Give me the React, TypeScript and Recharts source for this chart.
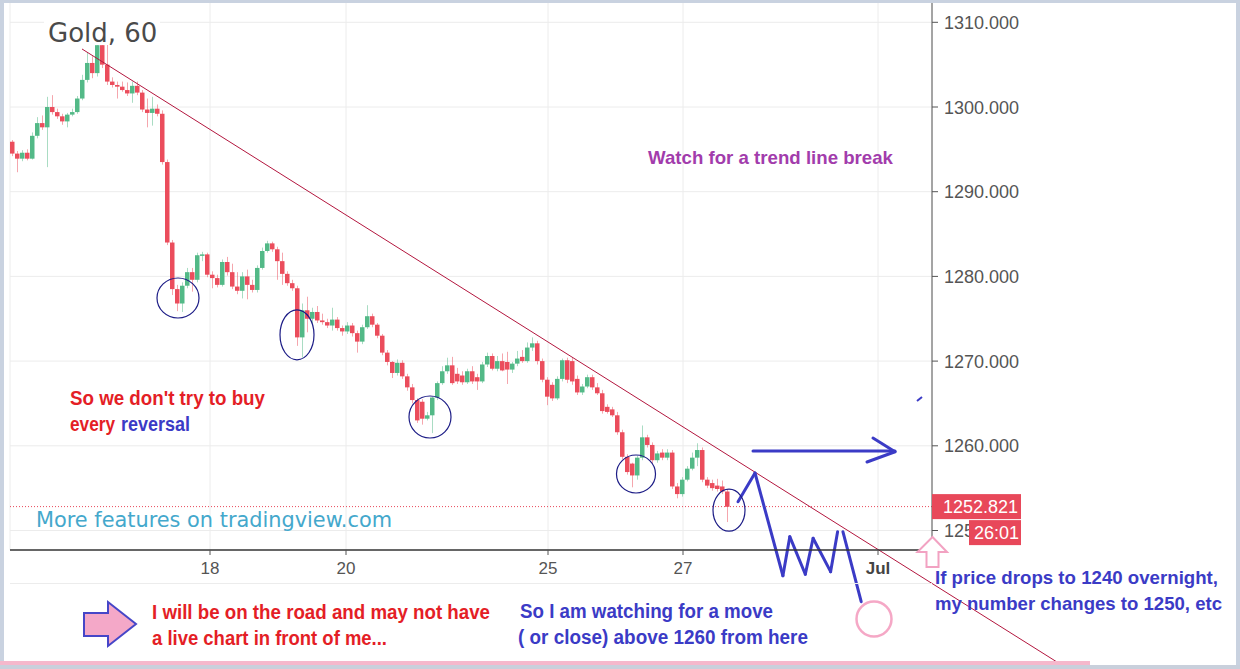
import React from 'react';
import { ComposedChart, Bar, XAxis, YAxis, CartesianGrid, ReferenceLine, ReferenceDot } from 'recharts';

// ---- Gold, 60 (candles) ----
const opens = [
  1295.9, 1294.5, 1293.9, 1294.6, 1293.9, 1296.6, 1298.1, 1297.6, 1300.0, 1299.4,
  1298.9, 1298.3, 1299.1, 1299.4, 1301.0, 1303.2, 1305.2, 1304.0, 1307.3, 1305.0,
  1303.0, 1302.6, 1302.4, 1302.0, 1301.6, 1302.5, 1301.7, 1299.7, 1299.3, 1299.8,
  1299.2, 1293.5, 1284.0, 1278.5, 1276.8, 1278.9, 1280.5, 1279.6, 1282.5, 1282.6,
  1280.2, 1279.8, 1279.0, 1281.7, 1280.5, 1278.8, 1278.3, 1280.0, 1279.0, 1278.4,
  1281.0, 1283.0, 1283.9, 1283.2, 1281.8, 1280.3, 1279.2, 1278.6, 1272.8, 1276.0,
  1275.0, 1275.8, 1274.8, 1274.6, 1274.2, 1274.9, 1273.9, 1273.5, 1274.2, 1273.3,
  1272.3, 1274.0, 1275.3, 1274.3, 1273.0, 1271.0, 1269.9, 1268.6, 1269.8, 1268.2,
  1266.9, 1265.4, 1265.2, 1263.2, 1263.6, 1265.7, 1267.4, 1268.8, 1269.5, 1268.5,
  1268.3, 1267.5, 1268.8, 1268.1, 1267.6, 1269.6, 1270.6, 1269.1, 1270.0, 1269.9,
  1269.0, 1269.7, 1270.5, 1270.0, 1271.6, 1272.1, 1270.0, 1267.8, 1267.2, 1265.6,
  1267.9, 1270.1, 1270.0, 1267.9, 1266.3, 1267.0, 1268.1, 1266.9, 1266.2, 1264.6,
  1264.3, 1263.6, 1261.6, 1258.7, 1257.9, 1256.5, 1258.6, 1261.0, 1260.1, 1258.3,
  1259.2, 1258.6, 1259.2, 1255.2, 1254.3, 1256.0, 1257.3, 1258.6, 1259.5, 1256.0,
  1255.6, 1255.3, 1255.2, 1254.6,
];
const highs = [
  1296.1, 1294.8, 1294.9, 1295.0, 1297.0, 1298.8, 1299.0, 1301.2, 1301.4, 1299.8,
  1299.2, 1299.3, 1299.8, 1301.3, 1303.8, 1306.4, 1306.0, 1307.6, 1307.7, 1307.4,
  1303.5, 1303.0, 1303.0, 1302.9, 1303.0, 1303.0, 1302.0, 1301.0, 1301.2, 1300.3,
  1299.6, 1293.8, 1284.3, 1279.0, 1279.3, 1281.0, 1281.0, 1282.8, 1282.9, 1282.8,
  1280.6, 1280.2, 1282.0, 1282.3, 1281.5, 1280.5, 1280.5, 1280.8, 1279.6, 1281.3,
  1283.4, 1284.2, 1284.1, 1283.5, 1282.8, 1280.6, 1279.6, 1278.9, 1276.8, 1277.6,
  1276.3, 1276.5, 1275.6, 1275.0, 1276.3, 1275.2, 1274.2, 1274.6, 1274.5, 1273.6,
  1274.3, 1276.6, 1275.6, 1274.5, 1273.2, 1271.3, 1270.0, 1270.2, 1270.1, 1268.5,
  1267.3, 1265.6, 1265.5, 1264.0, 1265.8, 1267.6, 1269.4, 1270.4, 1270.5, 1269.2,
  1268.8, 1269.1, 1269.4, 1268.5, 1269.9, 1271.0, 1270.9, 1270.6, 1270.9, 1271.1,
  1269.9, 1271.2, 1271.3, 1272.2, 1272.8, 1272.4, 1270.3, 1268.1, 1267.5, 1268.2,
  1270.3, 1270.4, 1270.4, 1268.3, 1267.3, 1268.4, 1268.4, 1267.4, 1266.6, 1264.9,
  1264.6, 1264.0, 1261.9, 1259.0, 1258.0, 1258.8, 1262.4, 1261.3, 1260.4, 1259.4,
  1259.6, 1259.6, 1259.5, 1255.6, 1256.3, 1257.6, 1259.2, 1260.3, 1259.8, 1256.3,
  1256.0, 1256.1, 1255.9, 1254.9,
];
const lows = [
  1294.2, 1292.3, 1293.6, 1293.7, 1293.8, 1296.3, 1297.3, 1292.9, 1299.1, 1298.6,
  1297.9, 1297.6, 1298.9, 1299.2, 1300.8, 1302.9, 1303.4, 1303.6, 1304.6, 1302.6,
  1302.3, 1301.0, 1301.8, 1301.3, 1300.5, 1301.4, 1299.4, 1297.6, 1297.8, 1298.9,
  1293.2, 1283.7, 1277.8, 1275.9, 1275.8, 1278.6, 1278.2, 1279.3, 1281.8, 1279.9,
  1278.6, 1278.7, 1278.8, 1280.1, 1278.5, 1277.9, 1277.4, 1277.3, 1278.1, 1278.1,
  1280.8, 1282.8, 1282.9, 1279.6, 1279.0, 1278.9, 1278.3, 1271.8, 1270.4, 1273.4,
  1274.4, 1274.5, 1274.3, 1273.9, 1273.6, 1273.6, 1273.0, 1273.2, 1272.9, 1271.0,
  1272.0, 1273.8, 1274.0, 1272.7, 1270.7, 1269.5, 1268.0, 1268.3, 1267.9, 1266.5,
  1265.0, 1262.7, 1262.5, 1263.0, 1261.5, 1265.4, 1267.2, 1268.5, 1267.2, 1267.3,
  1267.2, 1267.3, 1267.3, 1266.6, 1267.4, 1269.3, 1268.9, 1268.8, 1268.8, 1267.3,
  1268.6, 1269.4, 1269.8, 1269.8, 1271.2, 1269.6, 1267.5, 1264.8, 1265.3, 1265.4,
  1267.6, 1267.4, 1267.2, 1266.0, 1266.0, 1266.8, 1266.6, 1266.0, 1263.8, 1263.8,
  1263.4, 1261.3, 1258.4, 1256.6, 1255.1, 1256.0, 1258.3, 1259.8, 1257.9, 1258.0,
  1258.3, 1258.3, 1254.9, 1253.8, 1254.0, 1255.8, 1257.1, 1257.6, 1255.7, 1255.0,
  1254.7, 1254.6, 1254.3, 1251.0,
];
const closes = [
  1294.5, 1293.9, 1294.6, 1293.9, 1296.6, 1298.1, 1297.6, 1300.0, 1299.4, 1298.9,
  1298.3, 1299.1, 1299.4, 1301.0, 1303.2, 1305.2, 1304.0, 1307.3, 1305.0, 1303.0,
  1302.6, 1302.4, 1302.0, 1301.6, 1302.5, 1301.7, 1299.7, 1299.3, 1299.8, 1299.2,
  1293.5, 1284.0, 1278.5, 1276.8, 1278.9, 1280.5, 1279.6, 1282.5, 1282.6, 1280.2,
  1279.8, 1279.0, 1281.7, 1280.5, 1278.8, 1278.3, 1280.0, 1279.0, 1278.4, 1281.0,
  1283.0, 1283.9, 1283.2, 1281.8, 1280.3, 1279.2, 1278.6, 1272.8, 1276.0, 1275.0,
  1275.8, 1274.8, 1274.6, 1274.2, 1274.9, 1273.9, 1273.5, 1274.2, 1273.3, 1272.3,
  1274.0, 1275.3, 1274.3, 1273.0, 1271.0, 1269.9, 1268.6, 1269.8, 1268.2, 1266.9,
  1265.4, 1263.0, 1263.2, 1263.6, 1265.7, 1267.4, 1268.8, 1269.5, 1267.4, 1267.6,
  1267.5, 1268.8, 1267.6, 1267.6, 1269.6, 1270.6, 1269.1, 1270.0, 1268.9, 1269.0,
  1269.7, 1270.3, 1270.0, 1271.6, 1272.1, 1270.0, 1267.8, 1265.8, 1265.6, 1267.9,
  1270.1, 1267.8, 1267.6, 1266.3, 1267.0, 1268.1, 1266.9, 1266.2, 1264.1, 1264.0,
  1263.6, 1261.6, 1258.7, 1256.9, 1256.5, 1258.6, 1261.0, 1260.1, 1258.3, 1259.1,
  1258.6, 1259.2, 1255.2, 1254.3, 1256.0, 1257.3, 1258.6, 1259.5, 1256.0, 1255.3,
  1255.0, 1254.9, 1254.6, 1252.8,
];

// time axis (candle index units) and labels
const dayTickPositions = [39.5, 66.7, 107.1, 134.1, 173.1];
const dayTickLabels = ['18', '20', '25', '27', 'Jul'];
const priceTicks = [1250, 1260, 1270, 1280, 1290, 1300, 1310];
const lastPrice = 1252.821;
const countdown = '26:01';

// annotations in data coordinates [candle index, price]
const trendLine = [[13.9, 1306.85], [208.9, 1234.47]];
const reversalCircles = [[33.1, 1277.45], [56.9, 1273.1], [83.5, 1263.4], [124.7, 1256.67], [143.3, 1252.4]];
const scenarioPath = [
  [145.1, 1253.4], [148.5, 1256.79], [154.08, 1244.66], [155.46, 1249.27],
  [158.56, 1244.83], [160.12, 1249.08], [163.62, 1245.14], [165.02, 1249.86],
];
const scenarioDrop = [[166.08, 1249.86], [169.74, 1241.59]];
const breakoutArrow = [[148.1, 1259.39], [176.5, 1259.39]];
const breakoutHead = [[[172.1, 1260.92], [176.5, 1259.3]], [[170.9, 1258.09], [176.5, 1259.3]]];
const targetLevel = [172.3, 1239.55];

// ---- styles ----
const UP = '#53b987';
const DOWN = '#eb4d5c';
const ELLIPSE_R = [[21, 20], [17, 25], [21, 21], [19.5, 19], [16, 21]];
const BLUE = '#3b3bc6';
const RED_TXT = '#e41e26';
const TAG = '#e8485a';
const BOLD_FONT = "'Liberation Sans Narrow', 'Arial Narrow', 'Liberation Sans', Arial, sans-serif";
const AXIS_FONT = "'Liberation Sans', Arial, sans-serif";

const candleData = closes.map((c, i) => ({
  t: i,
  o: opens[i],
  h: highs[i],
  l: lows[i],
  c,
  range: [lows[i], highs[i]],
}));

const Candle = (props: any) => {
  const { x, y, width, height, payload } = props;
  if (x == null || y == null || !payload) return null;
  const { o, h, l, c } = payload;
  const span = h - l || 1;
  const py = (p: number) => y + ((h - p) / span) * height;
  const up = c >= o;
  const color = up ? UP : DOWN;
  const top = py(Math.max(o, c));
  const bot = py(Math.min(o, c));
  const cx = Math.round(x + width / 2) + 0.5;
  return (
    <g>
      <line x1={cx} x2={cx} y1={y} y2={y + height} stroke={color} strokeOpacity={0.5} strokeWidth={1} />
      <rect x={x} y={top} width={width} height={Math.max(1.5, bot - top)} fill={color} />
    </g>
  );
};

const DayTick = (props: any) => {
  const { x, y, payload } = props;
  const idx = dayTickPositions.indexOf(payload.value);
  const label = dayTickLabels[idx] ?? '';
  const bold = label === 'Jul';
  return (
    <text
      x={x}
      y={y + 17}
      textAnchor="middle"
      fill={bold ? '#444' : '#555'}
      fontSize={17}
      fontWeight={bold ? 700 : 400}
      fontFamily={AXIS_FONT}
    >
      {label}
    </text>
  );
};

// price-axis tick: regular labels, plus the last-price tag (drawn last so it sits on top)
const PriceTick = (props: any) => {
  const { x, y, payload } = props;
  const v = payload.value;
  if (v === lastPrice) {
    const ax = x - 12;
    return (
      <g>
        <rect x={ax} y={y - 12.5} width={89} height={25} fill={TAG} />
        <text x={ax + 11} y={y + 6.5} fill="#fff" fontSize={18} fontFamily={AXIS_FONT}>
          {lastPrice.toFixed(3)}
        </text>
        <rect x={ax + 37} y={y + 13.5} width={52} height={25} fill={TAG} />
        <text x={ax + 42} y={y + 32.5} fill="#fff" fontSize={18} fontFamily={AXIS_FONT}>
          {countdown}
        </text>
      </g>
    );
  }
  return (
    <text x={x} y={y + 6.5} fill="#555" fontSize={18} fontFamily={AXIS_FONT}>
      {v.toFixed(3)}
    </text>
  );
};

const seg = (a: number[], b: number[]) => [
  { x: a[0], y: a[1] },
  { x: b[0], y: b[1] },
];

export default function App() {
  const pathSegs: any[] = [];
  for (let k = 0; k < scenarioPath.length - 1; k++) pathSegs.push(seg(scenarioPath[k], scenarioPath[k + 1]));
  pathSegs.push(seg(scenarioDrop[0], scenarioDrop[1]));
  pathSegs.push(seg(breakoutArrow[0], breakoutArrow[1]));
  breakoutHead.forEach((h) => pathSegs.push(seg(h[0], h[1])));

  return (
    <div style={{ position: 'absolute', left: 0, top: 0, width: 1240, height: 669, background: '#fff', overflow: 'hidden' }}>
      <ComposedChart
        width={1240}
        height={669}
        data={candleData}
        margin={{ top: 0, right: 0, bottom: 0, left: 10 }}
      >
        <CartesianGrid stroke="#ececec" horizontalValues={priceTicks} />
        <XAxis
          type="number"
          dataKey="t"
          domain={[-0.5, 183.9]}
          ticks={dayTickPositions}
          interval={0}
          height={119}
          axisLine={{ stroke: '#333', strokeWidth: 1.5 }}
          tickLine={{ stroke: '#555' }}
          tickSize={5}
          tickMargin={2}
          tick={<DayTick />}
          allowDataOverflow
        />
        <YAxis
          orientation="right"
          type="number"
          domain={[1247.698, 1312.633]}
          ticks={[...priceTicks, lastPrice]}
          interval={0}
          width={308}
          axisLine={{ stroke: '#555' }}
          tickLine={{ stroke: '#555' }}
          tickSize={6}
          tickMargin={6}
          tick={<PriceTick />}
          allowDataOverflow
        />
        <ReferenceLine y={lastPrice} stroke={TAG} strokeDasharray="1 2" />
        <Bar dataKey="range" barSize={5} shape={<Candle />} isAnimationActive={false} />
        <ReferenceLine
          segment={seg(trendLine[0], trendLine[1])}
          stroke="#b3163e"
          strokeWidth={1}
          ifOverflow="visible"
        />
        {reversalCircles.map((p, k) => (
          <ReferenceDot
            key={'e' + k}
            x={p[0]}
            y={p[1]}
            r={2}
            ifOverflow="visible"
            shape={(sp: any) => (
              <ellipse cx={sp.cx} cy={sp.cy} rx={ELLIPSE_R[k][0]} ry={ELLIPSE_R[k][1]} fill="none" stroke="#1c1c86" strokeWidth={1.2} />
            )}
          />
        ))}
        {pathSegs.map((s, k) => (
          <ReferenceLine
            key={'s' + k}
            segment={s}
            stroke={BLUE}
            strokeWidth={3}
            strokeLinecap="round"
            ifOverflow="visible"
          />
        ))}
        <ReferenceDot
          x={targetLevel[0]}
          y={targetLevel[1]}
          r={2}
          ifOverflow="visible"
          shape={(sp: any) => (
            <circle cx={sp.cx} cy={sp.cy} r={17.5} fill="none" stroke="#f5a8c6" strokeWidth={2.5} />
          )}
        />
      </ComposedChart>

      <svg width={1240} height={669} style={{ position: 'absolute', left: 0, top: 0, pointerEvents: 'none' }}>
        {/* frame */}
        <rect x={0} y={0} width={1240} height={3} fill="#c9d2e0" />
        <rect x={0} y={0} width={4} height={669} fill="#c9d2e0" />
        <rect x={1236} y={0} width={4} height={669} fill="#c9d2e0" />
        <rect x={0} y={665} width={1240} height={4} fill="#c9d0dc" />
        <rect x={0} y={661} width={1090} height={4} fill="#f5b8cc" />
        <line x1={10} x2={932} y1={583.5} y2={583.5} stroke="#ececec" />

        {/* title */}
        <rect x={44} y={17} width={116} height={28} fill="#fff" />
        <text x={48} y={42} fontSize={26} fill="#4a4a4a" fontFamily="'DejaVu Sans', Verdana, sans-serif">
          Gold, 60
        </text>

        <text x={36} y={527} fontSize={20.5} fill="#44a8cc" fontFamily="'DejaVu Sans', Verdana, sans-serif" textLength={356} lengthAdjust="spacingAndGlyphs">
          More features on tradingview.com
        </text>

        <text x={648} y={164} fontSize={19} fontWeight={700} fill="#a23cac" fontFamily={BOLD_FONT} textLength={245} lengthAdjust="spacingAndGlyphs">
          Watch for a trend line break
        </text>

        <text x={70} y={405} fontSize={20} fontWeight={700} fill={RED_TXT} fontFamily={BOLD_FONT} textLength={195} lengthAdjust="spacingAndGlyphs">
          So we don't try to buy
        </text>
        <text x={70} y={431} fontSize={20} fontWeight={700} fill={RED_TXT} fontFamily={BOLD_FONT} textLength={45} lengthAdjust="spacingAndGlyphs">
          every
        </text>
        <text x={121} y={431} fontSize={20} fontWeight={700} fill={BLUE} fontFamily={BOLD_FONT} textLength={69} lengthAdjust="spacingAndGlyphs">
          reversal
        </text>

        <text x={152} y={619} fontSize={20} fontWeight={700} fill={RED_TXT} fontFamily={BOLD_FONT} textLength={338} lengthAdjust="spacingAndGlyphs">
          I will be on the road and may not have
        </text>
        <text x={152} y={645} fontSize={20} fontWeight={700} fill={RED_TXT} fontFamily={BOLD_FONT} textLength={235} lengthAdjust="spacingAndGlyphs">
          a live chart in front of me...
        </text>

        <text x={520} y={618} fontSize={20} fontWeight={700} fill={BLUE} fontFamily={BOLD_FONT} textLength={253} lengthAdjust="spacingAndGlyphs">
          So I am watching for a move
        </text>
        <text x={518} y={644} fontSize={20} fontWeight={700} fill={BLUE} fontFamily={BOLD_FONT} textLength={290} lengthAdjust="spacingAndGlyphs">
          ( or close) above 1260 from here
        </text>

        <text x={935} y={584} fontSize={19} fontWeight={700} fill={BLUE} fontFamily={BOLD_FONT} textLength={283} lengthAdjust="spacingAndGlyphs">
          If price drops to 1240 overnight,
        </text>
        <text x={935} y={610} fontSize={19} fontWeight={700} fill={BLUE} fontFamily={BOLD_FONT} textLength={287} lengthAdjust="spacingAndGlyphs">
          my number changes to 1250, etc
        </text>

        {/* pink up arrow */}
        <polygon
          points="932.5,537 917.5,552 926.5,552 926.5,567 938.5,567 938.5,552 947,552"
          fill="#fff"
          stroke="#f2a2c2"
          strokeWidth={2}
        />
        {/* pink right arrow */}
        <polygon
          points="84,613 108,613 108,602 136,624 108,646 108,636 84,636"
          fill="#f4a8c8"
          stroke="#4646c8"
          strokeWidth={2}
        />
        {/* small stray pen mark */}
        <line x1={917} y1={401} x2={922} y2={397} stroke={BLUE} strokeWidth={2} />
      </svg>
    </div>
  );
}
